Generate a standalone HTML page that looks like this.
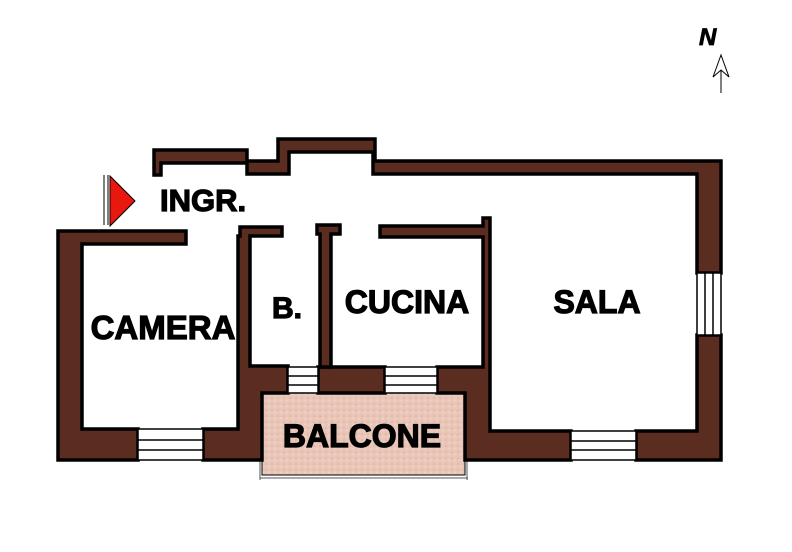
<!DOCTYPE html><html><head><style>body{margin:0;background:#fff}svg{display:block}text{font-family:"Liberation Sans",sans-serif;font-weight:bold;fill:#000}</style></head><body>
<svg width="792" height="552" viewBox="0 0 792 552">
<defs><pattern id="p" width="6" height="6" patternUnits="userSpaceOnUse"><rect width="6" height="6" fill="#e9c6b8"/><circle cx="2" cy="2" r="0.8" fill="#d6a898"/><circle cx="5" cy="4.5" r="0.7" fill="#f3dcd2"/></pattern></defs>
<rect x="262" y="393" width="203" height="82" fill="url(#p)" stroke="#000" stroke-width="1"/>
<line x1="260" y1="478" x2="468" y2="478" stroke="#555" stroke-width="1"/>
<line x1="260" y1="393" x2="260" y2="480" stroke="#555" stroke-width="1"/>
<line x1="467" y1="460" x2="467" y2="480" stroke="#555" stroke-width="1"/>
<g fill="#5b2d21" stroke="#000" stroke-width="3.5" stroke-linejoin="miter">
<path d="M154,150 H247 V161 H278 V139 H375 V161 H721 V273 H697 V174 H373 V152 H289 V174 H247 V163 H161 V175 H154 Z"/>
<path d="M697,335 H721 V460 H636 V431 H697 Z"/>
<path d="M483,218 H490 V431 H571 V460 H465 V393 H437 V367 H483 V237 H380 V226 H483 Z"/>
<rect x="318" y="367" width="67" height="26"/>
<path d="M317,225 H340 V234 H331 V367 H320 V234 H317 Z"/>
<path d="M240,227 H282 V236 H250 V366 H288 V393 H262 V460 H203 V429 H238 V236 H240 Z"/>
<path d="M58,231 H186 V244 H82 V429 H138 V460 H58 Z"/>
</g>
<g fill="#fff" stroke="#000" stroke-width="1.5">
<rect x="138" y="429" width="65" height="31"/><line x1="138" y1="440" x2="203" y2="440"/><line x1="138" y1="450" x2="203" y2="450"/>
<rect x="571" y="431" width="65" height="29"/><line x1="571" y1="441" x2="636" y2="441"/><line x1="571" y1="450" x2="636" y2="450"/>
<rect x="697" y="273" width="24" height="62"/><line x1="705" y1="273" x2="705" y2="335"/><line x1="713" y1="273" x2="713" y2="335"/>
<rect x="385" y="367" width="52" height="26"/><line x1="385" y1="376" x2="437" y2="376"/><line x1="385" y1="385" x2="437" y2="385"/>
<rect x="288" y="367" width="30" height="26"/><line x1="288" y1="376" x2="318" y2="376"/><line x1="288" y1="385" x2="318" y2="385"/>
</g>
<line x1="104" y1="175" x2="104" y2="225" stroke="#000" stroke-width="1"/>
<line x1="108" y1="175" x2="108" y2="225" stroke="#000" stroke-width="1"/>
<polygon points="110,176 135,201 110,226" fill="#e8180f" stroke="#000" stroke-width="1"/>
<text x="699" y="45" font-size="24" font-style="italic" stroke="#000" stroke-width="0.8">N</text>
<line x1="721" y1="60" x2="721" y2="93" stroke="#000" stroke-width="1"/>
<polygon points="721,55 713,77 721,70 729,77" fill="#fff" stroke="#000" stroke-width="1"/>
<g stroke="#000" stroke-width="1.2">
<text x="160" y="211" font-size="31">INGR.</text>
<text x="163" y="339" font-size="33" text-anchor="middle">CAMERA</text>
<text x="287" y="318" font-size="30" text-anchor="middle">B.</text>
<text x="407" y="313" font-size="32" text-anchor="middle">CUCINA</text>
<text x="597" y="313" font-size="32" text-anchor="middle">SALA</text>
<text x="362" y="447" font-size="32" text-anchor="middle">BALCONE</text>
</g>
</svg></body></html>
